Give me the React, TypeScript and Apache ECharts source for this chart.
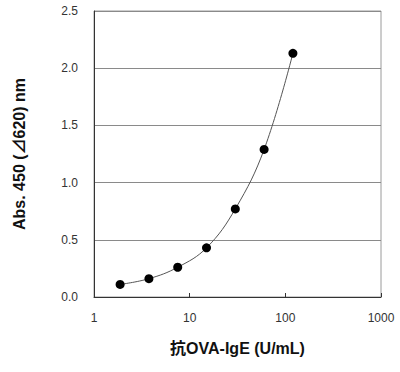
import React, { useEffect, useRef } from "react";
import * as echarts from "echarts";

const concentrations = [1.875, 3.75, 7.5, 15, 30, 60, 120];
const absorbance = [0.11, 0.16, 0.26, 0.43, 0.77, 1.29, 2.13];
const yTicks = [0, 0.5, 1.0, 1.5, 2.0, 2.5];
const xTickLabels = ["1", "10", "100", "1000"];

const FONT = '"Liberation Sans", Arial, "Noto Sans CJK JP", sans-serif';

export default function App() {
  const ref = useRef<HTMLDivElement>(null);
  useEffect(() => {
    if (!ref.current) return;
    const chart = echarts.init(ref.current, undefined, { renderer: "svg" });
    chart.setOption({
      animation: false,
      backgroundColor: "#ffffff",
      grid: {
        left: 94,
        right: 19,
        top: 11,
        bottom: 75,
        show: true,
        borderColor: "#9a9a9a",
        borderWidth: 1,
        backgroundColor: "transparent",
      },
      xAxis: {
        type: "log",
        logBase: 10,
        min: 1,
        max: 1000,
        name: "抗OVA-IgE (U/mL)",
        nameLocation: "middle",
        nameGap: 43,
        nameTextStyle: { fontFamily: FONT, fontSize: 16, fontWeight: "bold", color: "#111" },
        axisLine: { show: true, lineStyle: { color: "#333", width: 1 } },
        axisTick: { show: true, inside: true, length: 4, lineStyle: { color: "#333" } },
        splitLine: { show: false },
        minorTick: { show: false },
        axisLabel: {
          fontFamily: FONT,
          fontSize: 12,
          color: "#333",
          margin: 15,
          formatter: (v: number) => {
            const i = Math.round(Math.log10(v));
            return xTickLabels[i] ?? String(v);
          },
        },
      },
      yAxis: {
        type: "value",
        min: yTicks[0],
        max: yTicks[yTicks.length - 1],
        interval: 0.5,
        name: "Abs. 450 (⊿620) nm",
        nameLocation: "middle",
        nameGap: 67,
        nameTextStyle: { fontFamily: FONT, fontSize: 16, fontWeight: "bold", color: "#111" },
        axisLine: { show: true, lineStyle: { color: "#333", width: 1 } },
        axisTick: { show: false },
        splitLine: { show: true, lineStyle: { color: "#8a8a8a", width: 1 } },
        axisLabel: {
          fontFamily: FONT,
          fontSize: 12,
          color: "#333",
          margin: 16,
          formatter: (v: number) => v.toFixed(1),
        },
      },
      series: [
        {
          type: "line",
          data: concentrations.map((c, i) => [c, absorbance[i]]),
          smooth: 0.4,
          symbol: "circle",
          symbolSize: 9,
          itemStyle: { color: "#000" },
          lineStyle: { color: "#555", width: 1 },
        },
      ],
    });
    return () => chart.dispose();
  }, []);
  return <div ref={ref} style={{ width: 400, height: 372, position: "absolute", left: 0, top: 0 }} />;
}
